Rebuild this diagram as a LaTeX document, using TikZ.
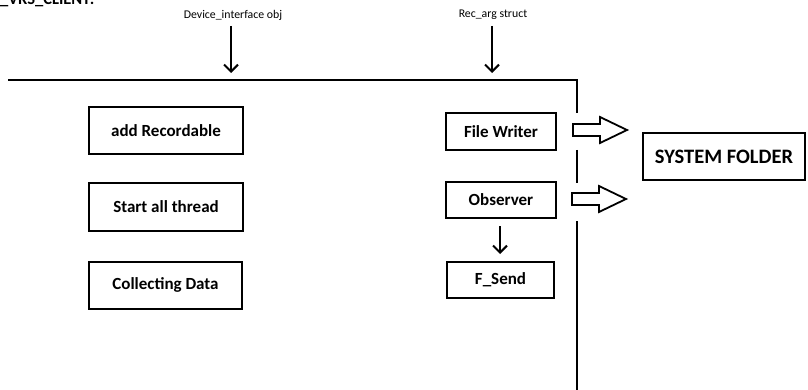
\documentclass[tikz,border=0pt]{standalone}
\usepackage{fontspec}
\setmainfont{Carlito}
\usetikzlibrary{arrows.meta}
\begin{document}
\begin{tikzpicture}[x=1pt,y=-1pt,
  box/.style={draw,line width=2pt,font=\fontsize{17}{19}\selectfont\bfseries,inner sep=0pt},
  lbl/.style={font=\fontsize{11.8}{13}\selectfont,inner sep=0pt},
  main/.style={line width=2.6pt},
  down/.style={line width=2pt,-{Straight Barb[length=7pt,width=14pt,line width=2pt]}},
  blockarrow/.style={draw,line width=1.8pt,fill=white,line join=miter}]
\useasboundingbox (0,0) rectangle (808,390);
% title
\node[font=\fontsize{16.5}{18}\selectfont\bfseries,anchor=base west,inner sep=0pt] (title) at (0,5) {\_VRS\_CLIENT:};
% top labels
\node[lbl] (dev) at (233,15) {Device\_interface obj};
\node[lbl] (rec) at (493,15) {Rec\_arg struct};
\coordinate (devend) at (231,73);
\coordinate (recend) at (492,73);
\draw[down] (231,26) -- (devend);
\draw[down] (492,26) -- (recend);
% frame lines
\coordinate (tl) at (8,80);
\coordinate (tr) at (577,80);
\draw[main,line join=miter] (tl) -- (tr) -- (577,113);
\draw[main] (577,150) -- (577,183);
\draw[main] (577,221) -- (577,390);
% left boxes
\node[box,minimum width=154,minimum height=47] (add) at (166,130.5) {add Recordable};
\node[box,minimum width=154,minimum height=47] (start) at (166,207) {Start all thread};
\node[box,minimum width=153,minimum height=47] (coll) at (165.5,285) {Collecting Data};
% right boxes
\node[box,minimum width=110,minimum height=37] (fw) at (501,131.5) {File Writer};
\node[box,minimum width=110,minimum height=36] (obs) at (501,200) {Observer};
\node[box,minimum width=107,minimum height=36] (fs) at (500.5,280) {F\_Send};
\draw[down,shorten <=7pt,shorten >=7pt] (obs.south -| 500,0) -- (fs.north -| 500,0);
% system folder
\node[box,font=\fontsize{20.5}{22}\selectfont\bfseries,minimum width=162,minimum height=47] (sys) at (724,156.5) {SYSTEM FOLDER};
% block arrows
\draw[blockarrow] (573,124) -- (600,124) -- (600,117) -- (627,130) -- (600,143) -- (600,136) -- (573,136) -- cycle;
\draw[blockarrow] (572,193) -- (599,193) -- (599,186) -- (626,199) -- (599,212) -- (599,205) -- (572,205) -- cycle;
\end{tikzpicture}
\end{document}
